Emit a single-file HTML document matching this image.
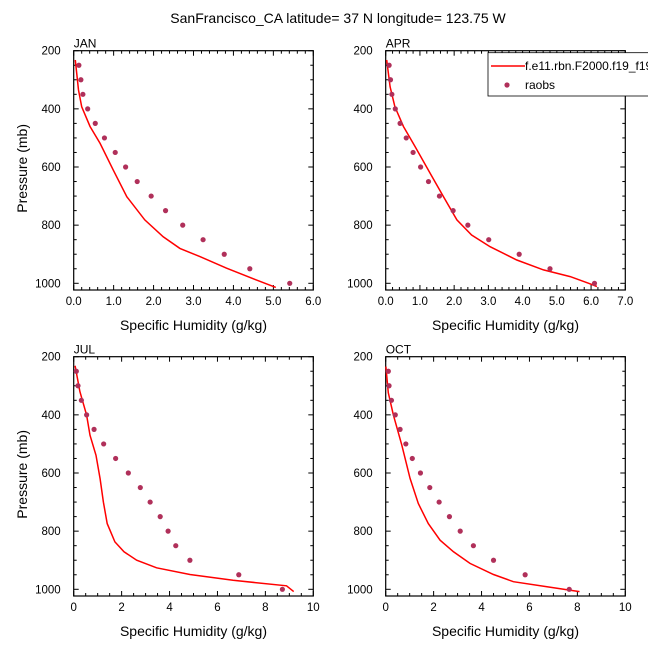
<!DOCTYPE html>
<html><head><meta charset="utf-8">
<style>
html,body{margin:0;padding:0;background:#fff;}
svg{display:block;font-family:"Liberation Sans",Arial,sans-serif;}
</style></head>
<body>
<svg id="chart" width="648" height="649" viewBox="0 0 648 649" xmlns="http://www.w3.org/2000/svg">
<text x="338" y="23" font-size="14" text-anchor="middle">SanFrancisco_CA  latitude= 37 N longitude= 123.75 W</text>
</svg>
<script>
const months = ["JAN","APR","JUL","OCT"];
const obsPressure = [250,300,350,400,450,500,550,600,650,700,750,800,850,900,950,1000];
const obsJAN = [0.13,0.18,0.23,0.35,0.54,0.77,1.04,1.3,1.59,1.94,2.3,2.73,3.24,3.77,4.41,5.41];
const obsAPR = [0.1,0.14,0.18,0.28,0.42,0.6,0.8,1.02,1.25,1.57,1.97,2.4,3.01,3.9,4.8,6.1];
const obsJUL = [0.11,0.18,0.32,0.54,0.85,1.25,1.75,2.28,2.78,3.19,3.61,3.94,4.26,4.85,6.89,8.71];
const obsOCT = [0.11,0.14,0.24,0.4,0.6,0.84,1.11,1.45,1.84,2.23,2.66,3.11,3.66,4.5,5.82,7.66];
const modPJAN = [232,335,393,461,519,610,702,782,840,880,908,948,989,1014];
const modJAN = [0.04,0.12,0.2,0.41,0.66,0.99,1.33,1.78,2.24,2.66,3.16,3.83,4.58,5.06];
const modPAPR = [232,324,393,461,530,622,702,782,834,874,920,954,977,1000,1011];
const modAPR = [0.03,0.13,0.27,0.52,0.86,1.3,1.69,2.08,2.51,3.05,3.83,4.61,5.39,5.93,6.17];
const modPJUL = [231,320,401,470,539,620,700,774,837,871,900,926,949,969,988,1008];
const modJUL = [0.06,0.26,0.54,0.68,0.93,1.1,1.24,1.4,1.72,2.1,2.63,3.46,4.85,6.65,8.88,9.18];
const modPOCT = [234,324,401,504,619,705,774,831,871,911,949,974,991,1008];
const modOCT = [0.01,0.11,0.32,0.67,1.02,1.36,1.78,2.27,2.83,3.52,4.5,5.33,6.73,8.09];
const xMaxes = [6,7,10,10];
const xMajorStep = [1,1,2,2];
const xMinorStep = [0.2,0.2,0.5,0.5];
const yTicks = [200,400,600,800,1000];

const obsAll=[obsJAN,obsAPR,obsJUL,obsOCT];
const modAll=[modJAN,modAPR,modJUL,modOCT];
const modPAll=[modPJAN,modPAPR,modPJUL,modPOCT];
const NS="http://www.w3.org/2000/svg";
const svg=document.getElementById('chart');
function mk(tag,attrs,parent){const e=document.createElementNS(NS,tag);for(const k in attrs)e.setAttribute(k,attrs[k]);(parent||svg).appendChild(e);return e;}
const boxes=[[73.7,50.7],[385.7,50.7],[73.7,356.7],[385.7,356.7]];
const W=239.6,H=239.3;
months.forEach((m,i)=>{
  const [x0,y0]=boxes[i];
  const g=mk('g',{});
  
  
  const xs=v=>x0+v/xMaxes[i]*W;
  const ys=p=>y0+(p-200)/800*232.6;
  const yb=y0+H;
  const frame=mk('rect',{x:x0,y:y0,width:W,height:H,fill:'none',stroke:'#000','stroke-width':1.2},g);
  
  
  let n=Math.round(xMaxes[i]/xMinorStep[i]);
  for(let k=0;k<=n;k++){
    const v=k*xMinorStep[i];const major=Math.abs(v/xMajorStep[i]-Math.round(v/xMajorStep[i]))<1e-6;
    const L=major?5:3;const x=xs(v);
    mk('line',{x1:x,y1:yb,x2:x,y2:yb-L,stroke:'#000','stroke-width':1},g);
    mk('line',{x1:x,y1:y0,x2:x,y2:y0+L,stroke:'#000','stroke-width':1},g);
    if(major){
      const t=mk('text',{x:x,y:yb+15,'font-size':11.5,'text-anchor':'middle'},g);
      t.textContent=i<2?v.toFixed(1):String(v);
      
      
    }
  }
  for(let p=200;p<=1000;p+=50){
    const major=p%200===0;const L=major?5:3;const y=ys(p);
    mk('line',{x1:x0,y1:y,x2:x0+L,y2:y,stroke:'#000','stroke-width':1},g);
    mk('line',{x1:x0+W,y1:y,x2:x0+W-L,y2:y,stroke:'#000','stroke-width':1},g);
  }
  yTicks.forEach(p=>{
    const t=mk('text',{x:x0-13,y:ys(p)+4,'font-size':11.5,'text-anchor':'end'},g);
    t.textContent=p;
    
    
  });
  const lab=mk('text',{x:x0,y:y0-3,'font-size':12},g);lab.textContent=m;
  
  
  const xt=mk('text',{x:x0+W/2,y:yb+40,'font-size':14,'text-anchor':'middle'},g);
  xt.textContent='Specific Humidity (g/kg)';
  
  
  if(i%2===0){
    const cy=y0+H/2-2;
    const yt=mk('text',{x:27,y:cy,'font-size':14,'text-anchor':'middle',transform:'rotate(-90 27 '+cy+')'},g);
    yt.textContent='Pressure (mb)';
    
    
  }
  const pts=modAll[i].map((v,k)=>xs(v).toFixed(1)+','+ys(modPAll[i][k]).toFixed(1)).join(' ');
  const line=mk('polyline',{points:pts,fill:'none',stroke:'#ff0000','stroke-width':1.5},g);
  
  
  obsAll[i].forEach((v,k)=>{
    const c=mk('circle',{cx:xs(v),cy:ys(obsPressure[k]),r:2.6,fill:'#b0305a'},g);
    
    
  });
});
const lg=mk('g',{});


mk('rect',{x:488,y:52.7,width:170,height:43.3,fill:'#fff',stroke:'#000','stroke-width':0.8},lg);
const l1=mk('line',{x1:491,y1:66,x2:525,y2:66,stroke:'#ff0000','stroke-width':1.5},lg);


const t1=mk('text',{x:525,y:70,'font-size':12},lg);t1.textContent='f.e11.rbn.F2000.f19_f19';


const c1=mk('circle',{cx:507,cy:85,r:2.6,fill:'#b0305a'},lg);


const t2=mk('text',{x:525,y:89,'font-size':12},lg);t2.textContent='raobs';


</script>
</body></html>
